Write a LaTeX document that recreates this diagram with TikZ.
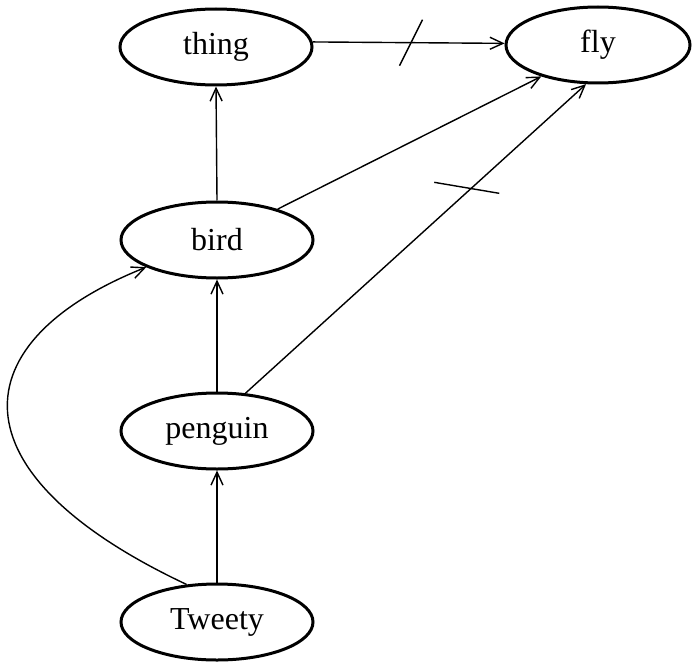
\documentclass[tikz,border=0pt]{standalone}
\usepackage{fontspec}
\setmainfont{Liberation Serif}
\usetikzlibrary{shapes.geometric,arrows.meta}
\begin{document}
\begin{tikzpicture}[x=1pt,y=-1pt,
  concept/.style={draw,ellipse,line width=3pt,minimum width=192pt,minimum height=76pt,inner sep=0pt,font=\fontsize{32}{38}\selectfont},
  link/.style={line width=1.4pt,-{Straight Barb[length=13pt,width=12pt,line width=1.4pt]}},
  slash/.style={line width=1.4pt}]
\useasboundingbox (0,0) rectangle (692,666);
\node[concept] (thing) at (216,47) {thing};
\node[concept,minimum width=184pt] (fly) at (598,45) {fly};
\node[concept] (bird) at (217,240) {bird};
\node[concept] (penguin) at (217,431) {penguin};
\node[concept] (tweety) at (217,622) {Tweety};
\draw[link] (thing.3) -- coordinate[pos=0.51] (s1) (fly.179);
\draw[slash] (s1) ++(-11,23) -- ++(23,-46);
\draw[link] (bird.27) -- (fly.209);
\draw[link] (bird.north) -- (thing.south);
\draw[link] (penguin.53) -- coordinate[pos=0.663] (s2) (fly.253);
\draw[slash] (s2) ++(-37,-6) -- ++(65,11);
\draw[link] (penguin.north) -- (bird.south);
\draw[link] (tweety.north) -- (penguin.south);
\draw[link] (tweety.129) .. controls +(-238,-112) and +(-185,74) .. (bird.201);
\end{tikzpicture}
\end{document}
